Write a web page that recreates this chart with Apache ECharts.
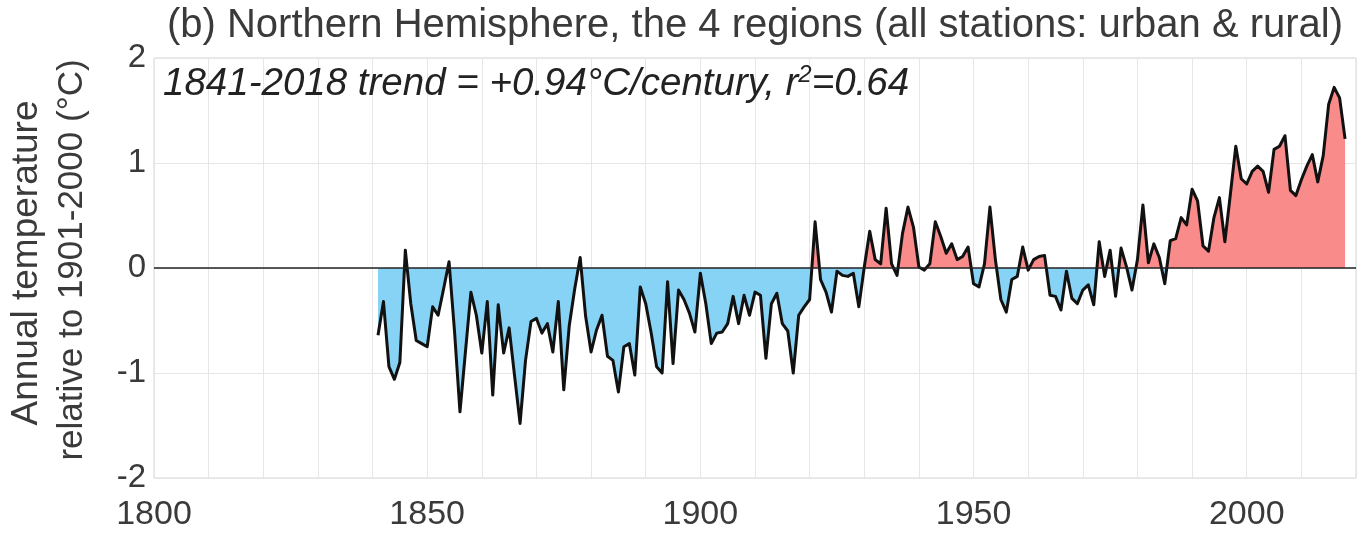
<!DOCTYPE html>
<html>
<head>
<meta charset="utf-8">
<script src="https://cdn.jsdelivr.net/npm/echarts@6/dist/echarts.min.js"></script>
<style>
html,body{margin:0;padding:0;background:#fff;}
#chart{width:1359px;height:541px;}
</style>
</head>
<body>
<div id="chart"></div>
<script>
// ---- data ----
var years = [];
for (var y = 1841; y <= 2018; y++) years.push(y);
var anomalies = [
 -0.64,-0.32,-0.94,-1.06,-0.90, 0.17,-0.34,-0.69,-0.72,-0.75,
 -0.37,-0.45,-0.20, 0.06,-0.60,-1.37,-0.80,-0.23,-0.45,-0.81,
 -0.32,-1.21,-0.35,-0.81,-0.57,-1.03,-1.48,-0.88,-0.51,-0.48,
 -0.62,-0.53,-0.80,-0.32,-1.16,-0.55,-0.20, 0.10,-0.46,-0.80,
 -0.59,-0.45,-0.84,-0.88,-1.18,-0.75,-0.72,-1.02,-0.18,-0.34,
 -0.62,-0.94,-1.00,-0.13,-0.91,-0.21,-0.30,-0.43,-0.61,-0.05,
 -0.34,-0.72,-0.62,-0.61,-0.53,-0.27,-0.53,-0.26,-0.45,-0.23,
 -0.26,-0.86,-0.34,-0.24,-0.53,-0.60,-1.00,-0.45,-0.37,-0.30,
  0.44,-0.11,-0.23,-0.42,-0.03,-0.07,-0.08,-0.05,-0.37, 0.01,
  0.35, 0.08, 0.04, 0.57, 0.04,-0.07, 0.33, 0.58, 0.39, 0.01,
 -0.02, 0.04, 0.44, 0.30, 0.14, 0.23, 0.08, 0.11, 0.20,-0.15,
 -0.18, 0.04, 0.58, 0.08,-0.30,-0.42,-0.11,-0.08, 0.20,-0.02,
  0.08, 0.11, 0.12,-0.26,-0.27,-0.40,-0.03,-0.29,-0.34,-0.21,
 -0.16,-0.35, 0.25,-0.08, 0.17,-0.27, 0.19, 0.01,-0.21, 0.08,
  0.60, 0.05, 0.23, 0.10,-0.15, 0.26, 0.28, 0.48, 0.41, 0.75,
  0.64, 0.21, 0.16, 0.48, 0.67, 0.25, 0.70, 1.16, 0.85, 0.80,
  0.92, 0.97, 0.92, 0.72, 1.13, 1.16, 1.26, 0.74, 0.69, 0.84,
  0.97, 1.08, 0.82, 1.07, 1.56, 1.72, 1.62, 1.23
];
var xTickLabels = [1800, 1850, 1900, 1950, 2000];
var yTickLabels = ['-2', '-1', '0', '1', '2'];
var titleText = '(b) Northern Hemisphere, the 4 regions (all stations: urban & rural)';
var yName1 = 'Annual temperature';
var yName2 = 'relative to 1901-2000 (°C)';

var points = years.map(function (yr, i) { return [yr, anomalies[i]]; });
var FONT = 'Liberation Sans';
var TXT = '#3a3a3a';

var chart = echarts.init(document.getElementById('chart'), null, {renderer: 'canvas'});
chart.setOption({
  animation: false,
  backgroundColor: '#fff',
  grid: {left: 154, right: 2, top: 58, bottom: 63, show: true, borderColor: '#d6d6d6', borderWidth: 1},
  xAxis: {
    type: 'value', min: 1800, max: 2020, interval: 10,
    axisLine: {show: false}, axisTick: {show: false},
    splitLine: {show: true, lineStyle: {color: '#e6e6e6', width: 1}},
    axisLabel: {
      margin: 20, fontFamily: FONT, fontSize: 34, color: TXT,
      formatter: function (v) { return xTickLabels.indexOf(v) >= 0 ? String(v) : ''; }
    }
  },
  yAxis: {
    type: 'value', min: -2, max: 2, interval: 1,
    axisLine: {show: false}, axisTick: {show: false},
    splitLine: {show: true, lineStyle: {color: '#e6e6e6', width: 1}},
    axisLabel: {
      margin: 8, fontFamily: FONT, fontSize: 33, color: TXT,
      formatter: function (v) { return yTickLabels[Math.round(v) + 2]; }
    }
  },
  visualMap: {
    show: false, type: 'piecewise', dimension: 1, seriesIndex: 0,
    pieces: [{gt: -10, lte: 0, color: '#87d3f6'}, {gt: 0, lte: 10, color: '#f98b8b'}],
    outOfRange: {color: '#87d3f6'}
  },
  series: [
    {
      type: 'line', data: points, showSymbol: false, symbol: 'none', silent: true,
      lineStyle: {width: 0, opacity: 0},
      areaStyle: {opacity: 1},
      z: 1
    },
    {
      type: 'line', data: points, showSymbol: false, symbol: 'none', silent: true,
      lineStyle: {color: '#111', width: 3, join: 'round'},
      markLine: {
        silent: true, symbol: 'none', label: {show: false},
        lineStyle: {color: '#222', width: 1.5, type: 'solid'},
        data: [{yAxis: 0}]
      },
      z: 3
    }
  ],
  graphic: [
    {type: 'text', x: 755, y: 6, z: 10,
     style: {text: titleText, fontFamily: FONT, fontSize: 40, fill: TXT, textAlign: 'center', textVerticalAlign: 'top'}},
    {type: 'text', x: 163, y: 63, z: 10,
     style: {
       text: '{a|1841-2018 trend = +0.94°C/century, r}{s|2}{a|=0.64}',
       textVerticalAlign: 'top',
       rich: {
         a: {fontFamily: FONT, fontSize: 38.5, fontStyle: 'italic', fill: '#222', lineHeight: 42},
         s: {fontFamily: FONT, fontSize: 24, fontStyle: 'italic', fill: '#222', lineHeight: 26, verticalAlign: 'top'}
       }
     }},
    {type: 'text', x: 27, y: 263, rotation: Math.PI / 2, z: 10,
     style: {text: yName1, fontFamily: FONT, fontSize: 37, fill: TXT, textAlign: 'center', textVerticalAlign: 'middle'}},
    {type: 'text', x: 72, y: 260, rotation: Math.PI / 2, z: 10,
     style: {text: yName2, fontFamily: FONT, fontSize: 35, fill: TXT, textAlign: 'center', textVerticalAlign: 'middle'}}
  ]
});
</script>
</body>
</html>
